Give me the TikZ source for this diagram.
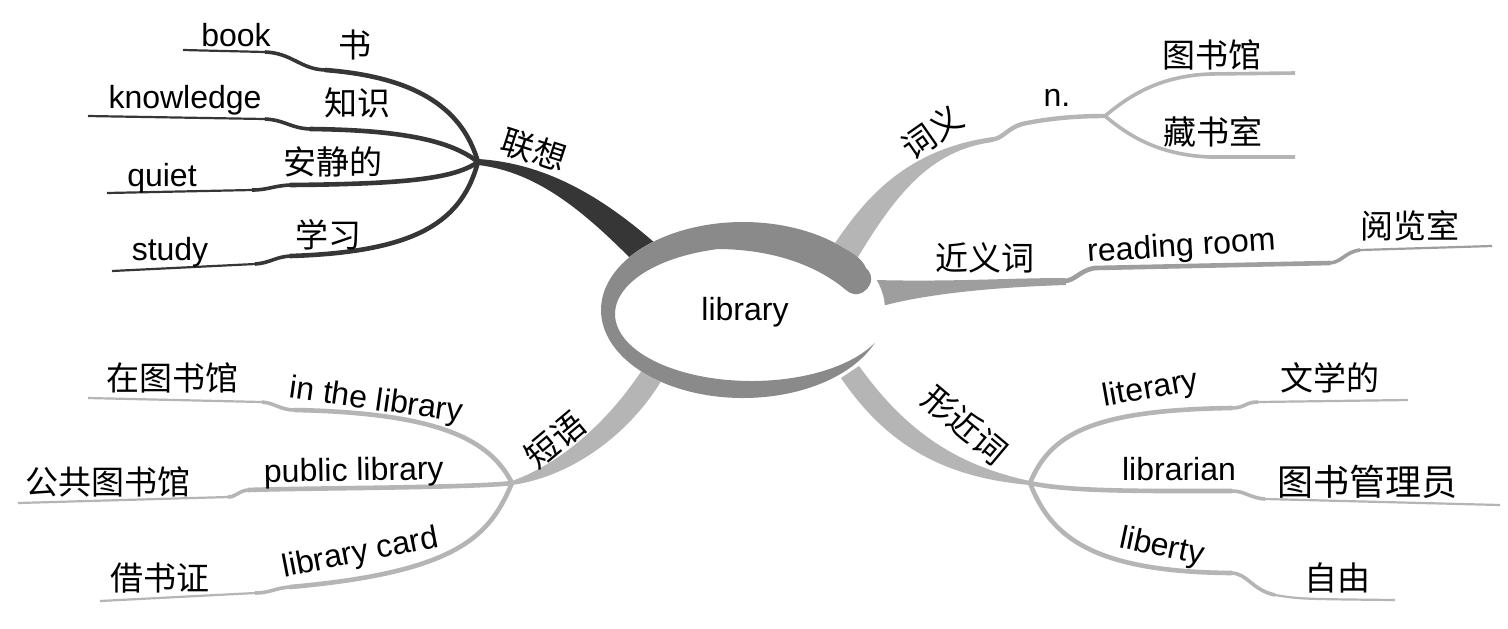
\documentclass[tikz,border=0pt]{standalone}
\usepackage{fontspec}
\setmainfont{Liberation Sans}
\newfontfamily\cjk{Noto Sans CJK SC}
\definecolor{dk}{HTML}{363636}
\definecolor{lt}{HTML}{B5B5B5}
\definecolor{md}{HTML}{9E9E9E}
\definecolor{ringc}{HTML}{8A8A8A}
\begin{document}
\begin{tikzpicture}[x=0.5pt,y=-0.5pt,
  en/.style={font=\fontsize{16}{18}\selectfont, inner sep=0pt, anchor=base},
  zh/.style={font=\cjk\fontsize{16.5}{18}\selectfont, inner sep=0pt},
  thinln/.style={line width=1.1pt},
  thickln/.style={line width=2.3pt},
  stepln/.style={line width=1.8pt}]
\useasboundingbox[fill=white] (0,0) rectangle (1508,628);
% hubs
\coordinate (hA) at (478,162);
\coordinate (hB) at (1105,116);
\coordinate (hC) at (512,483);
\coordinate (hD) at (1030,483);
% ---------- 联想 (dark)
\fill[dk] (478,159) .. controls (542,163) and (598,193) .. (656,244) -- (638,266) .. controls (585,212) and (538,172) .. (478,165) -- cycle;
\draw[dk,thickln] (hA) .. controls (465,118) and (430,78) .. (325,70);
\draw[dk,stepln] (325,70) .. controls (300,69) and (292,53) .. (265,52);
\draw[dk,thinln] (265,52) -- (183,50);
\draw[dk,thickln] (hA) .. controls (450,140) and (400,130) .. (310,129);
\draw[dk,stepln] (310,129) .. controls (290,128) and (285,120) .. (265,119);
\draw[dk,thinln] (265,119) -- (88,116);
\draw[dk,thickln] (hA) .. controls (455,178) and (410,184) .. (290,185);
\draw[dk,stepln] (290,185) .. controls (272,186) and (268,190) .. (252,190);
\draw[dk,thinln] (252,190) -- (107,193);
\draw[dk,thickln] (hA) .. controls (462,220) and (420,252) .. (290,256);
\draw[dk,stepln] (290,256) .. controls (275,257) and (270,263) .. (255,264);
\draw[dk,thinln] (255,264) -- (112,271);
% ---------- 词义
\fill[lt] (827,255) .. controls (860,205) and (900,150) .. (993,137) -- (993,142) .. controls (930,150) and (895,195) .. (855,262) -- cycle;
\draw[lt,line width=2.2pt] (992,139.5) .. controls (1002,139) and (1008,128) .. (1022,124) .. controls (1055,117) and (1085,116) .. (hB);
\draw[lt,line width=1.8pt] (hB) .. controls (1130,95) and (1160,76) .. (1210,74) -- (1295,73);
\draw[lt,line width=1.8pt] (hB) .. controls (1130,137) and (1160,155) .. (1210,157) -- (1295,157);
% ---------- 近义词
\fill[md] (876,280) .. controls (950,282) and (1010,278) .. (1065,278) -- (1066,285) .. controls (1000,287) and (930,293) .. (882,306) -- cycle;
\draw[md,thickln] (1064,281) .. controls (1075,281) and (1080,270) .. (1095,268) -- (1330,263);
\draw[md,stepln] (1330,263) .. controls (1342,262) and (1345,252) .. (1360,250);
\draw[md,thinln] (1360,250) -- (1492,246);
% ---------- 短语
\fill[lt] (649,359) .. controls (615,415) and (565,462) .. (512,481) -- (512,485) .. controls (575,476) and (635,430) .. (667,371) -- cycle;
\draw[lt,thickln] (hC) .. controls (490,440) and (440,413) .. (295,410);
\draw[lt,stepln] (295,410) .. controls (280,410) and (275,403) .. (262,402);
\draw[lt,thinln] (262,402) -- (88,398);
\draw[lt,thickln] (hC) .. controls (470,488) and (300,488) .. (248,490);
\draw[lt,stepln] (248,490) .. controls (238,491) and (236,497) .. (228,497);
\draw[lt,thinln] (228,497) -- (18,503);
\draw[lt,thickln] (hC) .. controls (490,535) and (460,572) .. (290,587);
\draw[lt,stepln] (290,587) .. controls (275,588) and (270,593) .. (255,593);
\draw[lt,thinln] (255,593) -- (100,601);
% ---------- 形近词
\fill[lt] (859,366) .. controls (905,430) and (955,465) .. (1030,481) -- (1030,485) .. controls (950,478) and (890,450) .. (841,378) -- cycle;
\draw[lt,thickln] (hD) .. controls (1050,435) and (1090,410) .. (1232,408);
\draw[lt,stepln] (1232,408) .. controls (1245,408) and (1245,402) .. (1258,402);
\draw[lt,thinln] (1258,402) -- (1408,400);
\draw[lt,thickln] (hD) .. controls (1070,492) and (1150,491) .. (1232,491);
\draw[lt,stepln] (1232,491) .. controls (1245,491) and (1250,498) .. (1265,499);
\draw[lt,thinln] (1265,499) -- (1500,505);
\draw[lt,thickln] (hD) .. controls (1050,535) and (1090,572) .. (1232,573);
\draw[lt,stepln] (1232,573) .. controls (1248,574) and (1252,590) .. (1275,595);
\draw[lt,thinln] (1275,595) .. controls (1300,599) .. (1395,600);
% ---------- centre ring
\fill[white] (743,310) ellipse [x radius=142, y radius=88];
\fill[ringc] plot[domain=25:313, samples=80, smooth] ({743+142*cos(\x)},{310+88*sin(\x)})
  .. controls (850.2,251.7) and (862,258) .. (866,268)
  .. controls (880.7,281.3) and (860.7,303.3) .. (846,290)
  .. controls (815,264) and (770,249) .. (716,249)
  -- plot[domain=25:255, samples=80, smooth] ({751.5+136.5*cos(280-\x)},{314+67*sin(280-\x)}) -- cycle;
\node[en] (lib) at (745,320) {library};
% ---------- labels
\node[en] (book) at (236,46) {book};
\node[zh] (shu) at (355,45) {书};
\node[en] (know) at (185,108) {knowledge};
\node[zh] (zhishi) at (357,103) {知识};
\node[en] (quiet) at (162,186) {quiet};
\node[zh] (anjing) at (333,162) {安静的};
\node[en] (study) at (170,260) {study};
\node[zh] (xuexi) at (328,235) {学习};
\node[zh,rotate=-18] (lianxiang) at (534,150) {联想};
\node[zh,rotate=35] (ciyi) at (932,132) {词义};
\node[en] (n) at (1057,106) {n.};
\node[zh] (tsg1) at (1212,55) {图书馆};
\node[zh] (cangshu) at (1213,132) {藏书室};
\node[zh] (jinyi) at (985,258) {近义词};
\node[en,rotate=3.6] (rroom) at (1182,256) {reading room};
\node[zh] (yuelan) at (1410,226) {阅览室};
\node[zh,rotate=40] (duanyu) at (555,440) {短语};
\node[en,rotate=-8] (inlib) at (375,410) {in the library};
\node[zh] (zaitsg) at (172,378) {在图书馆};
\node[en,rotate=1] (publib) at (354,481) {public library};
\node[zh] (gonggong) at (108,482) {公共图书馆};
\node[en,rotate=11] (libcard) at (362,562) {library card};
\node[zh] (jieshu) at (160,578) {借书证};
\node[zh,rotate=-40] (xingjin) at (965,425) {形近词};
\node[en,rotate=10] (literary) at (1152,398) {literary};
\node[zh] (wenxue) at (1330,378) {文学的};
\node[en] (librarian) at (1179,480) {librarian};
\node[zh,font=\cjk\fontsize{18}{20}\selectfont] (guanli) at (1367,482) {图书管理员};
\node[en,rotate=-12] (liberty) at (1160,556) {liberty};
\node[zh] (ziyou) at (1337,578) {自由};
\end{tikzpicture}
\end{document}
